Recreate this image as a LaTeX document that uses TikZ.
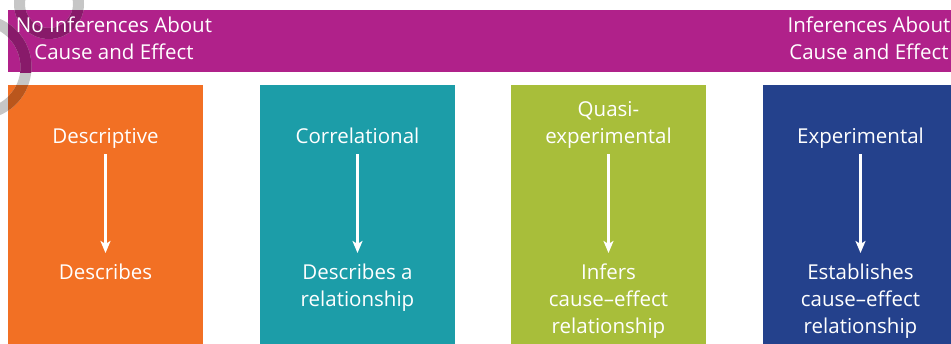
\documentclass[tikz,border=0pt]{standalone}
\usepackage{fontspec}
\setmainfont{Open Sans}
\usetikzlibrary{arrows.meta}
\definecolor{bannermag}{RGB}{176,33,138}
\definecolor{descorange}{RGB}{242,112,36}
\definecolor{corrteal}{RGB}{28,157,168}
\definecolor{quasigreen}{RGB}{168,190,58}
\definecolor{expblue}{RGB}{36,65,140}
\definecolor{ringgrey}{RGB}{198,198,198}
\definecolor{ringmag}{RGB}{136,26,106}
\definecolor{ringorange}{RGB}{186,86,28}

\begin{document}
\begin{tikzpicture}[x=1pt,y=-1pt,>={Stealth[length=12pt,width=10pt,inset=3pt]},
  colbox/.style={fill=#1,minimum width=195pt,minimum height=265pt,anchor=north west,inner sep=0pt},
  lbl/.style={text=white,font=\fontsize{20.5}{27}\selectfont,align=center,inner sep=0pt},
  flow/.style={->,white,line width=3.6pt,shorten <=2pt,shorten >=7pt},
  ring/.style={draw=#1,line width=11pt}]
\useasboundingbox (0,0) rectangle (951,343);
\clip (0,0) rectangle (951,343);
% banner and the four boxes
\node[colbox=bannermag,minimum width=960pt,minimum height=62pt] (banner) at (8,10) {};
\node[colbox=descorange] (descbox) at (8,85) {};
\node[colbox=corrteal] (corrbox) at (260,85) {};
\node[colbox=quasigreen] (quasibox) at (511,85) {};
\node[colbox=expblue] (expbox) at (763,85) {};
% grey rings at the top left
\draw[ring=ringgrey] (49,4) circle[radius=29.5pt] (-21,67) circle[radius=47pt];
\begin{scope}
\clip (banner.north west) rectangle (banner.south east);
\draw[ring=ringmag] (49,4) circle[radius=29.5pt] (-21,67) circle[radius=47pt];
\end{scope}
\begin{scope}
\clip (descbox.north west) rectangle (descbox.south east);
\draw[ring=ringorange] (-21,67) circle[radius=47pt];
\end{scope}
% banner texts
\node[lbl] (noinf) at (114,41) {\strut No Inferences About\\Cause and Effect\strut};
\node[lbl] (inf) at (869,41) {\strut Inferences About\\Cause and Effect\strut};
% box texts
\node[lbl,anchor=south] (desc) at (105.5,152) {Descriptive\strut};
\node[lbl,anchor=north] (descres) at (105.5,260) {\strut Describes};
\node[lbl,anchor=south] (corr) at (357.5,152) {Correlational\strut};
\node[lbl,anchor=north] (corrres) at (357.5,260) {\strut Describes a\\relationship};
\node[lbl,anchor=south] (quasi) at (608.5,152) {Quasi-\\experimental\strut};
\node[lbl,anchor=north] (quasires) at (608.5,260) {\strut Infers\\cause--effect\\relationship};
\node[lbl,anchor=south] (exp) at (860.5,152) {Experimental\strut};
\node[lbl,anchor=north] (expres) at (860.5,260) {\strut Establishes\\cause--effect\\relationship};
% arrows
\draw[flow] (desc.south) -- (descres.north);
\draw[flow] (corr.south) -- (corrres.north);
\draw[flow] (quasi.south) -- (quasires.north);
\draw[flow] (exp.south) -- (expres.north);
\end{tikzpicture}
\end{document}
